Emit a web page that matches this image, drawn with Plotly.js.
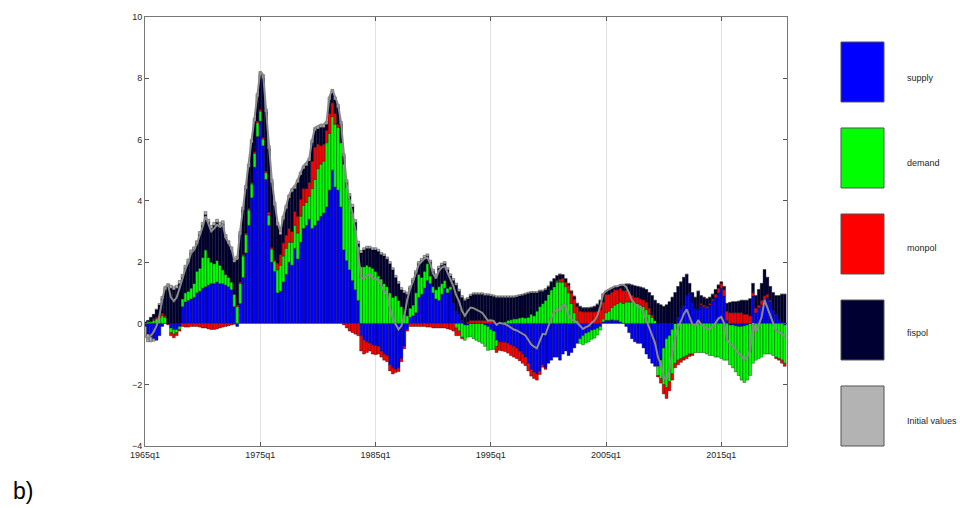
<!DOCTYPE html>
<html><head><meta charset="utf-8">
<script src="https://cdn.plot.ly/plotly-3.0.1.min.js"></script>
<style>html,body{margin:0;padding:0;background:#fff}#chart{width:960px;height:508px}</style>
</head><body><div id="chart"></div>
<script>
const startYear = 1965;
const seriesNames = ['supply', 'demand', 'monpol', 'fispol', 'Initial values'];
const seriesColors = ['#0000ff', '#00ff00', '#ff0000', '#000033', '#b3b3b3'];
const tickLabels = ['1965q1', '1975q1', '1985q1', '1995q1', '2005q1', '2015q1'];
const yTicks = [-4, -2, 0, 2, 4, 6, 8, 10];

const supply = [
-0.1,-0.35,-0.45,-0.5,-0.55,-0.4,-0.1,0.0,0.0,-0.15,
-0.2,-0.2,-0.1,0.55,0.7,0.75,0.8,0.85,1.0,1.05,
1.15,1.2,1.25,1.3,1.3,1.35,1.3,1.3,1.25,1.2,
1.1,0.55,-0.1,0.65,1.5,2.3,3.2,4.1,5.1,6.1,
6.6,5.8,4.7,3.2,2.0,1.7,1.0,1.05,1.35,1.6,
2.0,1.9,2.45,2.1,2.65,3.1,3.2,3.4,3.1,3.2,
3.35,3.5,3.6,3.8,4.35,5.0,4.45,4.35,3.8,2.4,
2.05,1.75,1.4,1.1,0.75,-0.4,-0.55,-0.6,-0.65,-0.7,
-0.72,-0.75,-0.9,-1.0,-1.05,-1.35,-1.45,-1.5,-1.45,-1.15,
-0.75,-0.2,0.2,0.25,0.35,0.85,0.95,1.15,1.4,1.3,
1.0,0.8,0.75,0.95,1.15,1.0,1.1,0.7,0.4,0.3,
0.1,-0.05,-0.05,0.0,0.0,0.0,0.0,0.0,-0.05,-0.1,
-0.2,-0.25,-0.55,-0.6,-0.6,-0.62,-0.65,-0.7,-0.75,-0.8,
-0.9,-1.0,-1.1,-1.3,-1.5,-1.6,-1.65,-1.55,-1.35,-1.45,
-1.3,-1.2,-1.1,-1.1,-1.2,-1.0,-0.9,-1.05,-0.95,-0.8,
-0.65,-0.5,-0.4,-0.32,-0.28,-0.22,-0.2,-0.16,-0.1,0.05,
0.1,0.1,0.12,0.1,0.1,0.05,0.0,-0.1,-0.3,-0.5,
-0.6,-0.65,-0.65,-0.8,-1.0,-1.15,-1.3,-1.4,-1.4,-1.2,
-0.8,-0.5,-0.4,-0.2,0.0,0.2,0.45,0.6,0.9,1.0,
0.7,0.5,0.45,0.6,0.55,0.5,0.6,0.75,0.85,1.0,
1.15,0.9,0.1,-0.05,-0.05,-0.08,-0.1,-0.1,-0.08,-0.05,
0.0,0.9,0.35,0.5,0.6,0.75,0.85,0.7,0.45,0.3,
0.15,0.05,-0.05
];

const demand = [
0.02,0.05,0.05,0.1,0.15,0.2,0.25,0.2,0.0,-0.15,
-0.15,-0.1,-0.1,0.25,0.3,0.3,0.35,0.45,0.7,0.75,
1.0,1.2,0.9,0.7,0.65,0.7,0.6,0.45,0.35,0.3,
0.25,0.4,0.55,0.65,0.7,0.6,0.5,0.45,0.45,0.45,
0.33,0.22,0.22,0.33,0.43,0.33,0.75,0.85,0.85,0.85,
0.65,0.75,0.75,0.85,0.85,0.75,0.75,0.75,1.3,1.5,
1.7,1.7,1.7,2.1,1.85,1.75,2.05,2.05,2.1,2.8,
2.4,2.3,2.2,1.95,1.75,1.85,1.85,1.9,1.85,1.8,
1.7,1.55,1.45,1.3,1.2,1.0,0.85,0.9,0.75,0.55,
0.3,0.25,0.3,0.35,0.65,0.75,0.55,0.55,0.55,0.25,
0.2,0.3,0.45,0.35,0.25,0.15,0.1,0.0,-0.15,-0.25,
-0.45,-0.5,-0.4,-0.43,-0.5,-0.55,-0.6,-0.65,-0.7,-0.78,
-0.65,-0.6,-0.2,0.0,0.0,0.05,0.1,0.12,0.15,0.15,
0.18,0.2,0.18,0.2,0.3,0.25,0.4,0.55,0.65,0.75,
0.95,1.1,1.2,1.35,1.35,1.35,1.2,1.0,0.65,0.35,
0.1,-0.15,-0.3,-0.32,-0.32,-0.3,-0.28,-0.22,-0.12,0.1,
0.25,0.3,0.4,0.5,0.55,0.65,0.65,0.7,0.7,0.7,
0.65,0.65,0.6,0.55,0.45,0.3,0.2,0.1,-0.3,-0.6,
-1.2,-1.6,-1.5,-1.45,-1.3,-1.2,-1.15,-1.1,-1.05,-1.0,
-1.0,-0.95,-0.95,-0.95,-0.95,-1.0,-1.05,-1.05,-1.1,-1.1,
-1.15,-1.2,-1.2,-1.3,-1.4,-1.5,-1.6,-1.75,-1.85,-1.8,
-1.7,-1.3,-1.2,-1.15,-1.1,-1.0,-1.0,-1.0,-1.05,-1.1,
-1.15,-1.2,-1.25
];

const monpol = [
0,0.02,0.03,0.05,0.05,0.08,0.08,0.05,-0.05,-0.1,
-0.12,-0.1,-0.05,-0.1,-0.12,-0.12,-0.1,-0.1,-0.1,-0.12,
-0.15,-0.15,-0.18,-0.2,-0.2,-0.18,-0.15,-0.12,-0.1,-0.08,
-0.05,-0.03,0.05,0.05,0.05,0.05,0.05,0.05,0.05,0.05,
0.05,0.05,0.05,0.1,0.05,0.05,0.22,0.35,0.43,0.43,
0.45,0.35,0.45,0.55,0.55,0.55,0.45,0.45,0.9,1.05,
0.8,0.6,0.55,0.4,0.65,0.45,0.35,0.1,0.0,-0.05,
-0.15,-0.25,-0.3,-0.35,-0.4,-0.5,-0.45,-0.35,-0.25,-0.3,
-0.3,-0.25,-0.2,-0.2,-0.2,-0.2,-0.2,-0.1,-0.12,-0.1,
-0.08,-0.05,-0.1,-0.1,-0.1,-0.1,-0.1,-0.1,-0.12,-0.12,
-0.15,-0.15,-0.15,-0.15,-0.15,-0.18,-0.2,-0.25,-0.25,-0.15,
-0.05,0.0,0.05,0.1,0.1,0.1,0.1,0.1,0.1,0.1,
0.1,0.05,-0.2,-0.28,-0.3,-0.3,-0.32,-0.35,-0.35,-0.35,
-0.32,-0.3,-0.28,-0.25,-0.22,-0.2,-0.2,-0.12,-0.08,-0.05,
0.0,0.0,0.0,0.05,0.1,0.12,0.15,0.25,0.35,0.45,
0.45,0.4,0.38,0.38,0.38,0.38,0.38,0.4,0.45,0.55,
0.6,0.55,0.5,0.5,0.45,0.45,0.42,0.38,0.3,0.22,
0.2,0.2,0.2,0.22,0.25,0.2,0.08,0.0,-0.05,-0.15,
-0.3,-0.35,-0.3,-0.2,-0.15,-0.15,-0.12,-0.1,-0.1,-0.08,
-0.05,0.0,0.0,0.05,0.05,0.05,0.05,0.05,0.1,0.15,
0.15,0.2,0.3,0.35,0.35,0.35,0.35,0.35,0.3,0.3,
0.25,0.1,0.15,0.1,0.15,0.15,0.1,0.05,0.0,-0.05,
-0.05,-0.1,-0.1
];

const fispol = [
0.03,0.03,0.12,0.15,0.25,0.32,0.47,0.85,1.2,1.15,
1.1,1.15,1.3,0.7,0.8,0.95,1.15,1.1,0.9,1.1,
1.05,1.15,1.15,1.1,1.25,1.25,1.3,1.5,1.2,1.1,
1.05,1.05,1.5,1.55,1.45,1.45,1.35,1.3,1.0,0.8,
1.12,1.93,1.93,2.07,2.12,1.77,1.23,0.65,0.77,0.87,
1.0,1.3,0.75,1.1,0.8,0.65,0.75,0.7,0.6,0.55,
0.5,0.6,0.55,0.2,0.45,0.35,0.45,0.55,0.6,0.25,
0.15,0.1,0.2,0.25,0.1,0.45,0.55,0.55,0.6,0.6,
0.7,0.8,0.8,0.9,0.9,0.95,0.9,0.6,0.55,0.55,
0.7,0.7,0.65,0.8,0.65,0.35,0.55,0.45,0.25,0.45,
0.5,0.45,0.6,0.6,0.55,0.6,0.35,0.7,0.85,0.75,
0.75,0.75,0.75,0.8,0.85,0.85,0.85,0.85,0.82,0.82,
0.8,0.83,0.85,0.85,0.85,0.8,0.75,0.73,0.7,0.72,
0.72,0.72,0.77,0.78,0.7,0.75,0.6,0.5,0.4,0.35,
0.25,0.25,0.25,0.15,0.15,0.11,0.1,0.05,0.05,0.08,
0.1,0.15,0.12,0.12,0.12,0.14,0.17,0.22,0.3,0.25,
0.1,0.15,0.13,0.1,0.1,0.1,0.18,0.2,0.28,0.33,
0.37,0.35,0.38,0.38,0.4,0.5,0.62,0.65,0.65,0.6,
0.55,0.6,0.7,0.85,1.0,1.0,0.9,0.9,0.7,0.3,
0.3,0.35,0.6,0.25,0.25,0.25,0.2,0.15,0.15,0.1,
0.05,0.1,0.25,0.33,0.35,0.35,0.37,0.4,0.45,0.45,
0.55,0.3,0.4,0.5,0.55,0.85,0.55,0.45,0.55,0.6,
0.75,0.9,0.95
];

const initialValues = [
-0.35,-0.25,-0.15,-0.08,0.02,0.05,0.08,0.1,0.1,0.1,
0.1,0.1,0.1,0.1,0.1,0.1,0.1,0.1,0.1,0.1,
0.1,0.1,0.1,0.1,0.1,0.1,0.1,0.1,0.1,0.1,
0.1,0.1,0.1,0.1,0.1,0.1,0.1,0.1,0.1,0.1,
0.12,0.12,0.1,0.1,0.1,0.1,0.1,0.1,0.1,0.1,
0.09,0.09,0.09,0.09,0.09,0.09,0.09,0.09,0.09,0.09,
0.09,0.09,0.09,0.09,0.09,0.09,0.09,0.09,0.09,0.09,
0.09,0.09,0.09,0.09,0.09,0.08,0.07,0.07,0.07,0.07,
0.07,0.07,0.07,0.07,0.07,0.07,0.07,0.07,0.07,0.07,
0.07,0.07,0.07,0.07,0.07,0.07,0.07,0.07,0.07,0.07,
0.07,0.07,0.07,0.07,0.07,0.07,0.07,0.07,0.07,0.07,
0.06,0.05,0.05,0.05,0.05,0.05,0.05,0.05,0.05,0.05,
0.05,0.05,0.05,0.05,0.05,0.05,0.05,0.05,0.05,0.05,
0.04,0.04,0.04,0.04,0.04,0.04,0.04,0.04,0.04,0.04,
0.03,0.03,0.02,0.02,0.02,0.02,0.02,0.02,0.02,0.02,
0.02,0.02,0.02,0.02,0.02,0.02,0.02,0.02,0.02,0.02,
0.01,0.01,0.01,0.01,0.01,0.01,0.01,0.01,0.01,0.01,
0.01,0.01,0.01,0.01,0.01,0.01,0.01,0.01,0.01,0.01,
0.01,0.01,0.01,0.01,0.01,0.01,0.01,0.01,0.01,0.01,
0.01,0.01,0.01,0.01,0.01,0.01,0.01,0.01,0.01,0.01,
0.01,0.01,0.01,0.01,0.01,0.01,0.01,0.01,0.01,0.01,
0.01,0.01,0.01,0.01,0.01,0.01,0.01,0.01,0.01,0.01,
0.01,0.01,0.01
];

const n = supply.length;
const quarters = [];
for (let i = 0; i < n; i++) quarters.push((startYear + Math.floor(i / 4)) + 'q' + (i % 4 + 1));
const xIdx = quarters.map((q, i) => i);
const tickVals = tickLabels.map(t => quarters.indexOf(t));
const series = [supply, demand, monpol, fispol, initialValues];
const total = xIdx.map(i => series.reduce((s, arr) => s + arr[i], 0));

const traces = series.map((arr, k) => ({
  type: 'bar', x: xIdx, y: arr, name: seriesNames[k],
  marker: {color: seriesColors[k], line: {color: 'rgba(0,0,0,0.85)', width: 0.4}},
  hoverinfo: 'skip'
}));
traces.push({
  type: 'scatter', mode: 'lines', x: xIdx, y: total, name: 'data',
  line: {color: '#8a8a8a', width: 2}, hoverinfo: 'skip'
});

// legend boxes (paper coords)
const legX0 = 1.0841, legX1 = 1.1511, legTextX = 1.1838;
const legBoxes = [[0.8019, 0.9417], [0.6014, 0.7413], [0.4009, 0.5408], [0.2005, 0.3403], [0.0, 0.1399]];
const legTextY = [0.8578, 0.6597, 0.4615, 0.2634, 0.0583];
const shapes = legBoxes.map((b, k) => ({
  type: 'rect', xref: 'paper', yref: 'paper', x0: legX0, x1: legX1, y0: b[0], y1: b[1],
  fillcolor: seriesColors[k], line: {color: '#555', width: 1}
}));
const annotations = seriesNames.map((nm, k) => ({
  xref: 'paper', yref: 'paper', x: legTextX, y: legTextY[k], text: nm, showarrow: false,
  xanchor: 'left', yanchor: 'middle', font: {size: 9, color: '#262626'}
}));
annotations.push({
  xref: 'paper', yref: 'paper', x: -0.2095, y: -0.1049, text: 'b)', showarrow: false,
  xanchor: 'left', yanchor: 'middle', font: {size: 23, color: '#000'}
});

const layout = {
  width: 960, height: 508,
  margin: {l: 145, r: 173, t: 17, b: 62, pad: 0},
  barmode: 'relative', bargap: 0, showlegend: false,
  paper_bgcolor: '#fff', plot_bgcolor: '#fff',
  font: {family: 'Liberation Sans, Arial, sans-serif', size: 9, color: '#262626'},
  xaxis: {range: [0, 222.8], tickmode: 'array', tickvals: tickVals, ticktext: tickLabels,
    ticks: 'inside', ticklen: 4, tickcolor: '#555', showgrid: true, gridcolor: '#e3e3e3', gridwidth: 1,
    showline: true, linecolor: '#777', linewidth: 1, mirror: 'allticks', zeroline: false},
  yaxis: {range: [-4, 10], tickmode: 'array', tickvals: yTicks, ticks: 'inside', ticklen: 4, tickcolor: '#555',
    showgrid: false, showline: true, linecolor: '#777', linewidth: 1, mirror: 'allticks', zeroline: false},
  shapes: shapes, annotations: annotations
};

Plotly.newPlot('chart', traces, layout, {staticPlot: true, displayModeBar: false});
</script></body></html>
